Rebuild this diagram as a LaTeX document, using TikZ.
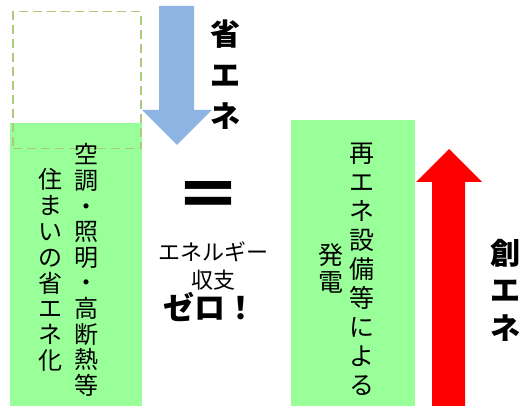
\documentclass[tikz,border=0pt]{standalone}
\usepackage{fontspec}
\newfontfamily\cjk{Noto Sans CJK JP}
\tikzset{
  x=1pt, y=-1pt,
  greenbox/.style={fill=gbox, draw=none, inner sep=0pt, anchor=north west},
  vtext/.style={align=center, inner sep=0pt, text=black},
  boldlabel/.style={vtext, font=\cjk\bfseries\fontsize{30}{41}\selectfont},
}
\definecolor{gbox}{HTML}{99FF99}
\definecolor{barrow}{HTML}{8EB4E3}
\definecolor{dashcol}{HTML}{9BBB59}
\begin{document}
\begin{tikzpicture}
\useasboundingbox (0,0) rectangle (528,406);
% left green box
\node[greenbox, minimum width=132pt, minimum height=283pt] (lbox) at (10,123) {};
% dashed box
\node[draw=dashcol!80!white, line width=1.5pt, dash pattern=on 9pt off 5pt, inner sep=0pt,
      minimum width=128pt, minimum height=137pt, anchor=north west] (dbox) at (12,11) {};
% right green box
\node[greenbox, minimum width=124pt, minimum height=286pt] (rbox) at (291,120) {};
% blue arrow
\fill[barrow] (159,6) -- (194,6) -- (194,110) -- (212,110) -- (177,145) -- (142,110) -- (159,110) -- cycle;
% red arrow
\fill[red] (432,406) -- (465,406) -- (465,182) -- (482,182) -- (449,149) -- (416,182) -- (432,182) -- cycle;
% labels
\node[boldlabel] (shoene) at (225,75) {省\\エ\\ネ};
\node[boldlabel, font=\cjk\bfseries\fontsize{30}{37.5}\selectfont] (souene) at (505,290) {創\\エ\\ネ};
% left column texts
\node[vtext, font=\cjk\fontsize{24}{25.6}\selectfont] (col1) at (86,270) {空\\調\\・\\照\\明\\・\\高\\断\\熱\\等};
\node[vtext, font=\cjk\fontsize{24}{25.8}\selectfont] (col2) at (50,270) {住\\ま\\い\\の\\省\\エ\\ネ\\化};
% right column texts
\node[vtext, font=\cjk\fontsize{25}{29}\selectfont] (col3) at (362,269) {再\\エ\\ネ\\設\\備\\等\\に\\よ\\る};
\node[vtext, font=\cjk\fontsize{25}{27}\selectfont] (col4) at (331,268) {発\\電};
% middle
\node[vtext, font=\cjk\bfseries\fontsize{66}{66}\selectfont] (eq) at (208,200) {＝};
\node[vtext, font=\cjk\fontsize{22}{28}\selectfont] (bal) at (213,266) {エネルギー\\収支};
\node[vtext, font=\cjk\bfseries\fontsize{31}{31}\selectfont] (zero) at (210,307) {ゼロ！};
\end{tikzpicture}
\end{document}
